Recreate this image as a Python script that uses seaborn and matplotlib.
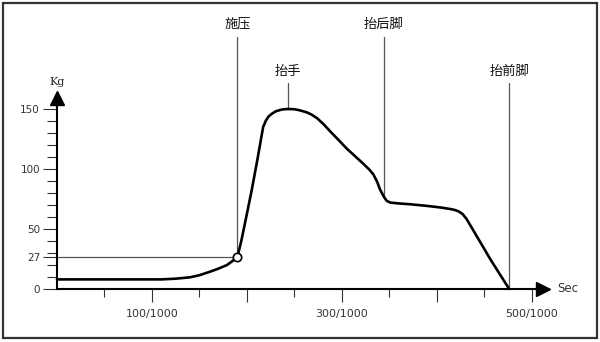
import numpy as np
import pandas as pd
import matplotlib
matplotlib.use("Agg")
import matplotlib.pyplot as plt
from matplotlib.patches import Rectangle
from matplotlib.ticker import FixedLocator, FixedFormatter
import seaborn as sns

# ---- data ----
time_ms = [0, 110, 125, 140, 150, 161, 170, 179, 185, 190,
           194, 200, 205, 211, 217, 220, 223, 227, 231, 237,
           243, 250, 256, 263, 268, 274, 281, 288, 296, 305,
           314, 322, 329, 333, 337, 340, 344, 347, 351, 360,
           372, 390, 405, 415, 419, 423, 427, 431, 438, 456,
           476]
force_kg = [8, 8, 8.6, 9.75, 11.5, 14.4, 17, 20, 23.5, 27,
            40, 63, 82.5, 108, 135, 140.5, 144, 146.5, 148.3, 149.6,
            150, 149.8, 148.8, 147.2, 145.3, 142.2, 137, 131, 124.5, 117,
            110.5, 104.7, 99.3, 95.5, 89.4, 83, 77, 73.5, 72, 71.3,
            70.6, 69.2, 67.8, 66.5, 65.8, 64.6, 62.4, 58.5, 49.2, 25,
            0]
event_names = ["施压", "抬手", "抬后脚", "抬前脚"]
event_times = [190, 243, 344, 476]
press_time = 190
press_force = 27
y_major = [0, 27, 50, 100, 150]
y_major_labels = ["0", "27", "50", "100", "150"]
y_minor = [10, 20, 30, 40, 60, 70, 80, 90, 110, 120, 130, 140]
x_major = [100, 200, 300, 400, 500]
x_major_labels = ["100/1000", "", "300/1000", "", "500/1000"]
x_minor = [50, 150, 250, 350, 450]

# ---- layout / style ----
sns.set_theme(style="white")
plt.rcParams["font.family"] = ["DejaVu Sans"]
CJK = ["Noto Sans CJK SC", "DejaVu Sans"]

fig = plt.figure(figsize=(6.0, 3.42), dpi=100)
ax = fig.add_axes([0, 0, 1, 1])
ax.set_facecolor("none")
ax.set_xlim(-60.0, 571.6)
ax.set_ylim(-44.17, 240.83)

df = pd.DataFrame({"t": time_ms, "kg": force_kg})
sns.lineplot(data=df, x="t", y="kg", sort=False, estimator=None, ax=ax,
             color="black", linewidth=1.9, zorder=4)

# horizontal guide at press level
ax.plot([0, press_time], [press_force, press_force], color="#555555", lw=0.9, zorder=2)
# press point marker
ax.plot([press_time], [press_force], marker="o", ms=6, mfc="white", mec="black",
        mew=1.2, zorder=5, linestyle="none")

# event lines & labels
line_tops = [210, 171.5, 210, 172]
label_y = [220.5, 181.5, 220.5, 181.5]
for name, t, top, ly in zip(event_names, event_times, line_tops, label_y):
    bottom = float(np.interp(t, time_ms, force_kg))
    ax.plot([t, t], [bottom, top], color="#555555", lw=0.9, zorder=3)
    ax.text(t, ly, name, ha="center", va="center", fontsize=9.5, family=CJK, color="#111111")

# axes spines as arrows
for s in ["top", "right"]:
    ax.spines[s].set_visible(False)
ax.spines["left"].set_position(("data", 0))
ax.spines["bottom"].set_position(("data", 0))
ax.spines["left"].set_bounds(0, 158)
ax.spines["bottom"].set_bounds(0, 512)
for s in ["left", "bottom"]:
    ax.spines[s].set_color("black")
    ax.spines[s].set_linewidth(1.5)
ax.plot([0], [158.75], marker="^", ms=9.4, color="black", clip_on=False, zorder=6)
ax.plot([512.1], [0], marker=">", ms=9.4, color="black", clip_on=False, zorder=6)

ax.yaxis.set_major_locator(FixedLocator(y_major))
ax.yaxis.set_major_formatter(FixedFormatter(y_major_labels))
ax.yaxis.set_minor_locator(FixedLocator(y_minor))
ax.xaxis.set_major_locator(FixedLocator(x_major))
ax.xaxis.set_major_formatter(FixedFormatter(x_major_labels))
ax.xaxis.set_minor_locator(FixedLocator(x_minor))

ax.tick_params(axis="y", which="major", direction="out", length=10, width=0.8,
               color="#333333", pad=2.2, labelsize=7.5, labelcolor="#333333", left=True)
ax.tick_params(axis="y", which="minor", direction="out", length=7, width=0.8,
               color="#333333", left=True)
ax.tick_params(axis="x", which="major", direction="out", length=9.4, width=0.8,
               color="#333333", pad=5, labelsize=8, labelcolor="#333333", bottom=True)
ax.tick_params(axis="x", which="minor", direction="out", length=5.8, width=0.8,
               color="#333333", bottom=True)
ax.set_xlabel("")
ax.set_ylabel("")

ax.text(0, 172.5, "Kg", ha="center", va="center", fontsize=8, family="DejaVu Serif",
        color="#222222")
ax.text(538, 0, "Sec", ha="center", va="center", fontsize=8.5, color="#333333")

# outer frame
fig.patches.append(Rectangle((3 / 600, 4 / 342), 594 / 600, 335 / 342,
                             transform=fig.transFigure, fill=False,
                             edgecolor="#333333", linewidth=1.6))

fig.savefig("out.png", dpi=100)
